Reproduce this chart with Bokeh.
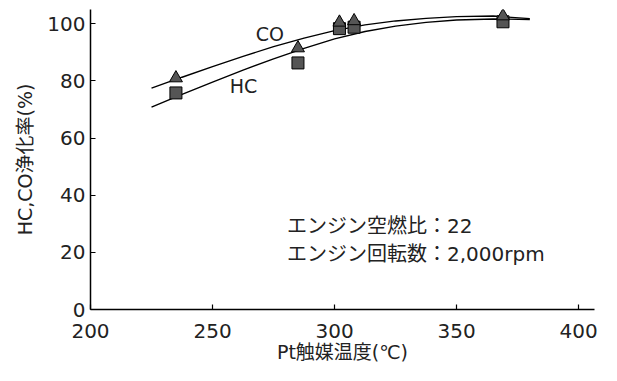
from bokeh.plotting import figure
from bokeh.models import Range1d, FixedTicker, Label
from bokeh.embed import file_html
from bokeh.resources import INLINE

# Measured points
temp_pts = [235, 285, 302, 308, 369]
co_pts = [81, 91.5, 100.5, 101, 102.7]
hc_pts = [75.8, 86.3, 98.3, 98.8, 100.7]

# Fitted curves
curve_x = [225, 237.5, 250, 262.5, 275, 287.5, 300, 312.5, 325, 337.5, 350, 365, 380]
co_curve = [77.5, 81.3, 85.0, 88.6, 92.0, 95.0, 97.6, 99.6, 101.0, 101.9, 102.5, 102.7, 101.8]
hc_curve = [70.8, 75.3, 79.6, 83.8, 87.7, 91.4, 94.7, 97.3, 99.2, 100.5, 101.3, 101.7, 101.5]

x_ticks = [200, 250, 300, 350, 400]
y_ticks = [0, 20, 40, 60, 80, 100]

JP = "DejaVu Sans, Noto Sans CJK JP"
NUM = "DejaVu Sans"

p = figure(width=601, height=365, output_backend="svg", toolbar_location=None,
           x_range=Range1d(200, 406.5), y_range=Range1d(0, 105),
           min_border_left=90, min_border_right=7, min_border_top=9, min_border_bottom=49)
p.outline_line_color = None
p.grid.visible = False
p.background_fill_color = "white"
p.border_fill_color = "white"

for ax in (p.xaxis[0], p.yaxis[0]):
    ax.axis_line_color = "black"
    ax.axis_line_width = 1.5
    ax.major_tick_in = 5
    ax.major_tick_out = 0
    ax.major_tick_line_color = "black"
    ax.major_tick_line_width = 1.2
    ax.minor_tick_line_color = None
    ax.major_label_text_font = NUM
    ax.major_label_text_font_size = "20px"
    ax.major_label_text_color = "#222222"
    ax.axis_label_text_font = JP
    ax.axis_label_text_font_size = "19px"
    ax.axis_label_text_font_style = "normal"
    ax.axis_label_text_color = "#222222"

p.xaxis.ticker = FixedTicker(ticks=x_ticks)
p.yaxis.ticker = FixedTicker(ticks=y_ticks)
p.xaxis.major_label_standoff = 14
p.yaxis.major_label_standoff = 5
p.xaxis.axis_label = "Pt触媒温度(℃)"
p.yaxis.axis_label = "HC,CO浄化率(%)"
p.xaxis.axis_label_standoff = 0
p.yaxis.axis_label_standoff = 8

p.line(curve_x, co_curve, line_color="black", line_width=1.4)
p.line(curve_x, hc_curve, line_color="black", line_width=1.4)

p.scatter(temp_pts, hc_pts, marker="square", size=12, fill_color="#555555", line_color="black", line_width=1)
p.scatter(temp_pts, co_pts, marker="triangle", size=13, fill_color="#555555", line_color="black", line_width=1)

p.add_layout(Label(x=273.5, y=96.6, text="CO", text_font=NUM, text_font_size="19px",
                   text_color="#222222", text_align="center", text_baseline="middle"))
p.add_layout(Label(x=262.7, y=78.2, text="HC", text_font=NUM, text_font_size="19px",
                   text_color="#222222", text_align="center", text_baseline="middle"))
p.add_layout(Label(x=280.5, y=29.2, text="エンジン空燃比：22", text_font=JP, text_font_size="20px",
                   text_color="#222222", text_align="left", text_baseline="middle"))
p.add_layout(Label(x=280.5, y=19.3, text="エンジン回転数：2,000rpm", text_font=JP, text_font_size="20px",
                   text_color="#222222", text_align="left", text_baseline="middle"))

open("out.html", "w").write(file_html(p, INLINE))
